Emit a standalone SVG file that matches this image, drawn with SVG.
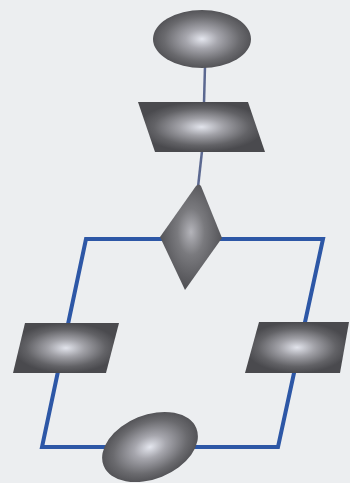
<svg xmlns="http://www.w3.org/2000/svg" width="350" height="483" viewBox="0 0 350 483">
<defs>
<radialGradient id="g" cx="0.5" cy="0.5" r="0.55">
<stop offset="0" stop-color="#e4e6ee"/>
<stop offset="0.3" stop-color="#a6a6ad"/>
<stop offset="0.7" stop-color="#6a6a6e"/>
<stop offset="1" stop-color="#4a4a4e"/>
</radialGradient>
<radialGradient id="gp" cx="0.5" cy="0.5" r="0.5">
<stop offset="0" stop-color="#e2e4ec"/>
<stop offset="0.35" stop-color="#a0a0a6"/>
<stop offset="0.75" stop-color="#626266"/>
<stop offset="1" stop-color="#4a4a4e"/>
</radialGradient>
<radialGradient id="gd" cx="0.5" cy="0.45" r="0.55">
<stop offset="0" stop-color="#b4b4ba"/>
<stop offset="0.4" stop-color="#7a7a7e"/>
<stop offset="1" stop-color="#4e4e52"/>
</radialGradient>
<style>
.shape{fill:url(#g)}
.para{fill:url(#gp)}
.dia{fill:url(#gd)}
.conn{fill:none;stroke:#5b6890;stroke-width:2.5}
.loop{fill:none;stroke:#2d57a6;stroke-width:4;stroke-linejoin:miter}
</style>
</defs>
<rect width="350" height="483" fill="#eceef0"/>
<g id="connectors">
<path class="conn" d="M205 66 L204 103"/>
<path class="conn" d="M202 151 L198 187"/>
<path class="loop" d="M163 239 L86 239 L42 447 L278 447 L323 239 L220 239"/>
</g>
<g id="start">
<ellipse class="shape" cx="202" cy="39" rx="49" ry="29"/>
</g>
<g id="input">
<polygon class="para" points="138,102 248,102 265,152 155,152"/>
</g>
<g id="decision">
<path class="dia" d="M196 186 Q199 183 201 186 L222 238 L185 290 L160 237 Z"/>
</g>
<g id="left-process">
<polygon class="para" points="25,323 119,323 106,373 13,373"/>
</g>
<g id="right-process">
<polygon class="para" points="259,322 349,322 340,373 245,373"/>
</g>
<g id="end">
<ellipse class="shape" cx="150" cy="447" rx="50" ry="32" transform="rotate(-22 150 447)"/>
</g>
</svg>
